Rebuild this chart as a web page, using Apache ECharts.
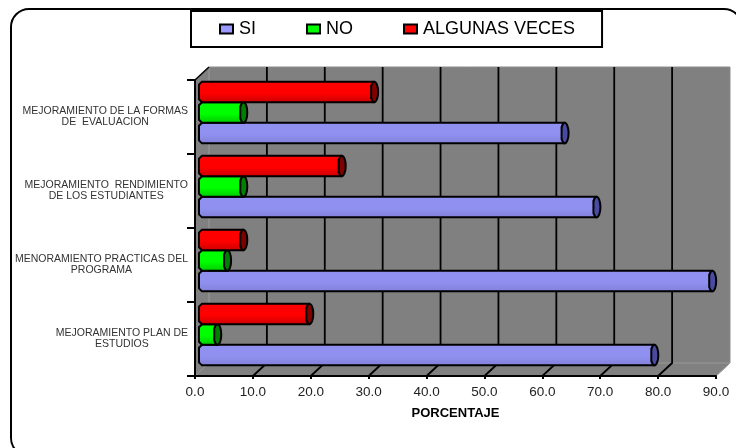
<!DOCTYPE html>
<html>
<head>
<meta charset="utf-8">
<style>
  html, body { margin: 0; padding: 0; background: #fff; }
  #chart { width: 736px; height: 448px; }
</style>
<script src="https://cdn.jsdelivr.net/npm/echarts@6/dist/echarts.min.js"></script>
</head>
<body>
<div id="chart"></div>
<script>
const categories = [
  'MEJORAMIENTO PLAN DE\nESTUDIOS',
  'MENORAMIENTO PRACTICAS DEL\nPROGRAMA',
  'MEJORAMIENTO  RENDIMIENTO\nDE LOS ESTUDIANTES',
  'MEJORAMIENTO DE LA FORMAS\nDE  EVALUACION'
];
const si = [79, 89, 69, 63.5];
const no = [3.5, 5.2, 8, 8];
const algunas = [19.4, 8, 25, 30.6];
const ticks = [0, 10, 20, 30, 40, 50, 60, 70, 80, 90];

const DEPTH_X = 14;
const DEPTH_Y = 13;

// fondo 3D: paredes, piso y lineas de division
function renderWall(params, api) {
  const v = api.value(0);
  const band = api.size([0, 1])[1];
  const top = api.coord([0, categories.length - 1])[1] - band / 2;
  const bottom = api.coord([0, 0])[1] + band / 2;
  const x = api.coord([v, 0])[0];
  const x0 = api.coord([0, 0])[0];
  const x1 = api.coord([90, 0])[0];
  const children = [];
  if (params.dataIndex === 0) {
    children.push({
      type: 'polygon',
      shape: { points: [[x0, top], [x0 + DEPTH_X, top - DEPTH_Y], [x1 + DEPTH_X, top - DEPTH_Y], [x1 + DEPTH_X, bottom - DEPTH_Y], [x1, bottom], [x0, bottom]] },
      style: { fill: '#808080', stroke: '#8c8c8c', lineWidth: 1 }
    });
    children.push({
      type: 'polyline',
      shape: { points: [[x0 + DEPTH_X, top - DEPTH_Y], [x0 + DEPTH_X, bottom - DEPTH_Y], [x1 + DEPTH_X, bottom - DEPTH_Y]] },
      style: { fill: 'none', stroke: '#999', lineWidth: 1 }
    });
    children.push({
      type: 'polyline',
      shape: { points: [[x1 + DEPTH_X, bottom - DEPTH_Y], [x1, bottom], [x0, bottom], [x0 + DEPTH_X, bottom - DEPTH_Y]] },
      style: { fill: 'none', stroke: '#999', lineWidth: 1 }
    });
    children.push({
      type: 'line',
      shape: { x1: x0, y1: top, x2: x0 + DEPTH_X, y2: top - DEPTH_Y },
      style: { stroke: '#000', lineWidth: 1.5 }
    });
  } else if (v < 90) {
    children.push({
      type: 'polyline',
      shape: { points: [[x, bottom], [x + DEPTH_X, bottom - DEPTH_Y], [x + DEPTH_X, top - DEPTH_Y]] },
      style: { fill: 'none', stroke: '#000', lineWidth: 1.8 }
    });
  }
  return { type: 'group', children };
}

function barRenderer(slot, light, dark, capColor) {
  return function (params, api) {
    const band = api.size([0, 1])[1];
    const h = band * 0.278;
    const c = api.coord([api.value(0), api.value(1)]);
    const x0 = api.coord([0, api.value(1)])[0] + 4;
    const xe = c[0] + 1;
    const yc = c[1] - 4.5 + slot * h;
    const t = yc - h / 2;
    const b = yc + h / 2;
    const line = { stroke: '#000', lineWidth: 2 };
    return {
      type: 'group',
      children: [
        {
          type: 'ellipse',
          shape: { cx: xe + 1, cy: yc, rx: 4, ry: h / 2 },
          style: Object.assign({ fill: capColor }, line)
        },
        {
          type: 'polygon',
          shape: { points: [[x0 + 3, t], [xe, t], [xe - 2, t + 4], [xe - 2, b - 4], [xe, b], [x0 + 3, b], [x0, b - 3], [x0, t + 3]] },
          style: Object.assign({
            fill: {
              type: 'linear', x: 0, y: 0, x2: 0, y2: 1,
              colorStops: [{ offset: 0, color: light }, { offset: 0.55, color: light }, { offset: 1, color: dark }]
            }
          }, line)
        }
      ]
    };
  };
}

function toPoints(values) {
  return values.map((v, i) => [v, i]);
}

const chart = echarts.init(document.getElementById('chart'));
chart.setOption({
  animation: false,
  textStyle: { fontFamily: '"Liberation Sans", Arial, sans-serif' },
  graphic: [{
    type: 'rect',
    z: -1,
    shape: { x: 11, y: 9, width: 731, height: 447, r: 18 },
    style: { fill: '#fff', stroke: '#000', lineWidth: 2 }
  }],
  legend: {
    left: 191,
    top: 11,
    data: ['SI', 'NO', 'ALGUNAS VECES'],
    icon: 'rect',
    itemWidth: 13,
    itemHeight: 9,
    itemGap: 50,
    padding: [9, 27, 9, 28],
    backgroundColor: '#fff',
    borderColor: '#000',
    borderWidth: 2,
    textStyle: { fontSize: 18, color: '#000', padding: [0, 0, 0, 1] }
  },
  grid: { left: 195, right: 20, top: 80, bottom: 72 },
  xAxis: {
    type: 'value',
    min: 0,
    max: 90,
    interval: 10,
    z: 5,
    splitLine: { show: false },
    axisLine: { show: true, lineStyle: { color: '#000', width: 2 } },
    axisTick: { show: true, length: 3, lineStyle: { color: '#000', width: 2 } },
    axisLabel: { margin: 9, fontSize: 13.5, color: '#222', formatter: v => v.toFixed(1), hideOverlap: false, showMaxLabel: true, showMinLabel: true },
    name: 'PORCENTAJE',
    nameLocation: 'middle',
    nameGap: 31,
    nameTextStyle: { fontSize: 13, fontWeight: 'bold', color: '#000' }
  },
  yAxis: {
    type: 'category',
    data: categories,
    z: 5,
    axisLine: { show: true, lineStyle: { color: '#000', width: 2 } },
    axisTick: { show: true, length: 8, lineStyle: { color: '#000', width: 2 } },
    axisLabel: {
      margin: 7,
      interval: 0,
      align: 'right',
      formatter: v => v.split('\n').map(s => '{a|' + s + '}').join('\n'),
      rich: { a: { fontSize: 10.5, color: '#333', align: 'center', lineHeight: 11 } }
    }
  },
  series: [
    {
      name: 'wall',
      type: 'custom',
      z: 1,
      silent: true,
      renderItem: renderWall,
      encode: { x: 0 },
      data: ticks.map(v => [v])
    },
    {
      name: 'SI',
      type: 'custom',
      z: 3,
      itemStyle: { color: '#9999ff', borderColor: '#000', borderWidth: 1.5 },
      renderItem: barRenderer(1, '#9090f0', '#8080d8', '#4a4aa0'),
      encode: { x: 0, y: 1 },
      data: toPoints(si)
    },
    {
      name: 'NO',
      type: 'custom',
      z: 3,
      itemStyle: { color: '#00ff00', borderColor: '#000', borderWidth: 1.5 },
      renderItem: barRenderer(0, '#00ff00', '#00c800', '#008000'),
      encode: { x: 0, y: 1 },
      data: toPoints(no)
    },
    {
      name: 'ALGUNAS VECES',
      type: 'custom',
      z: 3,
      itemStyle: { color: '#ff0000', borderColor: '#000', borderWidth: 1.5 },
      renderItem: barRenderer(-1, '#ff0000', '#c80000', '#800000'),
      encode: { x: 0, y: 1 },
      data: toPoints(algunas)
    }
  ]
});
</script>
</body>
</html>
